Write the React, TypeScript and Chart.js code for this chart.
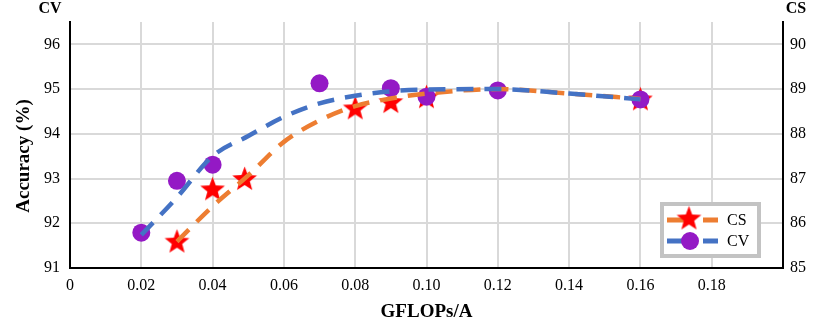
import React, { useEffect, useRef } from "react";
import { Chart, registerables } from "chart.js";

Chart.register(...registerables);

// ---- data ----
const cvX = [0.02, 0.03, 0.04, 0.07, 0.09, 0.1, 0.12, 0.16];
const cvY = [91.79, 92.95, 93.31, 95.13, 95.02, 94.83, 94.97, 94.77];

const csX = [0.03, 0.04, 0.049, 0.08, 0.09, 0.1, 0.16];
const csY = [85.6, 86.77, 87.0, 88.58, 88.72, 88.83, 88.78];

const cvFitX = [0.02, 0.03, 0.04, 0.05, 0.06, 0.07, 0.08, 0.09, 0.1, 0.12, 0.14, 0.16];
const cvFitY = [91.74, 92.58, 93.5, 93.95, 94.38, 94.68, 94.85, 94.95, 94.99, 95.0, 94.9, 94.77];

const csFitX = [0.03, 0.04, 0.05, 0.06, 0.07, 0.08, 0.09, 0.1, 0.12, 0.14, 0.16];
const csFitY = [85.59, 86.38, 87.07, 87.82, 88.3, 88.62, 88.79, 88.9, 89.0, 88.9, 88.78];

const xTicks = [0, 0.02, 0.04, 0.06, 0.08, 0.1, 0.12, 0.14, 0.16, 0.18, 0.2];
const yLeftTicks = [91, 92, 93, 94, 95, 96];
const yRightTicks = [85, 86, 87, 88, 89, 90];

const SERIF = "'Liberation Serif', 'Times New Roman', serif";
const ORANGE = "#ED7D31";
const BLUE = "#4472C4";
const PURPLE = "#9419C5";
const RED = "#FF0000";

function makeStar(size: number, color: string): HTMLCanvasElement {
  const c = document.createElement("canvas");
  c.width = size;
  c.height = size;
  const ctx = c.getContext("2d")!;
  const cx = size / 2;
  const cy = size / 2 + 1;
  const outer = size / 2 - 0.5;
  const inner = outer * 0.42;
  ctx.beginPath();
  for (let i = 0; i < 10; i++) {
    const r = i % 2 === 0 ? outer : inner;
    const a = -Math.PI / 2 + (i * Math.PI) / 5;
    const px = cx + r * Math.cos(a);
    const py = cy + r * Math.sin(a);
    if (i === 0) ctx.moveTo(px, py);
    else ctx.lineTo(px, py);
  }
  ctx.closePath();
  ctx.fillStyle = color;
  ctx.fill();
  return c;
}

export default function App() {
  const ref = useRef<HTMLCanvasElement | null>(null);

  useEffect(() => {
    document.body.style.margin = "0";
    const canvas = ref.current;
    if (!canvas) return;
    const star = makeStar(27, RED);

    const overlay = {
      id: "overlay",
      afterDraw(chart: any) {
        const ctx = chart.ctx as CanvasRenderingContext2D;
        ctx.save();
        // corner titles
        ctx.fillStyle = "#000";
        ctx.font = `bold 16px ${SERIF}`;
        ctx.textAlign = "center";
        ctx.textBaseline = "middle";
        ctx.fillText("CV", 50, 9);
        ctx.fillText("CS", 796, 9);

        // left axis title
        ctx.save();
        ctx.translate(24, 156);
        ctx.rotate(-Math.PI / 2);
        ctx.font = `bold 19px ${SERIF}`;
        ctx.fillText("Accuracy (%)", 0, 0);
        ctx.restore();

        // legend box
        ctx.fillStyle = "#fff";
        ctx.fillRect(662, 204, 97, 52);
        ctx.strokeStyle = "#c3c3c3";
        ctx.lineWidth = 4;
        ctx.strokeRect(662, 204, 97, 52);

        const ds = chart.data.datasets;
        const rows = [
          { y: 220, color: ORANGE, label: ds[0].label, kind: "star" },
          { y: 241, color: BLUE, label: ds[1].label, kind: "circle" },
        ];
        for (const r of rows) {
          ctx.save();
          ctx.strokeStyle = r.color;
          ctx.lineWidth = 5;
          ctx.setLineDash([25, 11]);
          ctx.beginPath();
          ctx.moveTo(667, r.y);
          ctx.lineTo(718, r.y);
          ctx.stroke();
          ctx.restore();
          if (r.kind === "star") {
            ctx.drawImage(star, 689 - star.width / 2, r.y - 2 - star.height / 2);
          } else {
            ctx.fillStyle = PURPLE;
            ctx.beginPath();
            ctx.arc(690, r.y, 9, 0, Math.PI * 2);
            ctx.fill();
          }
          ctx.fillStyle = "#000";
          ctx.font = `16px ${SERIF}`;
          ctx.textAlign = "left";
          ctx.textBaseline = "middle";
          ctx.fillText(r.label, 727, r.y + 1);
        }
        ctx.restore();
      },
    };

    const pts = (xs: number[], ys: number[]) => xs.map((x, i) => ({ x, y: ys[i] }));

    const chart = new Chart(canvas, {
      type: "scatter",
      data: {
        datasets: [
          {
            label: "CS",
            data: pts(csX, csY),
            yAxisID: "y2",
            pointStyle: star as any,
            pointRadius: 13,
            showLine: false,
            order: 4,
          },
          {
            label: "CV",
            data: pts(cvX, cvY),
            yAxisID: "y",
            pointStyle: "circle",
            pointRadius: 9,
            pointBackgroundColor: PURPLE,
            pointBorderWidth: 0,
            backgroundColor: PURPLE,
            borderColor: PURPLE,
            showLine: false,
            order: 3,
          },
          {
            label: "CS fit",
            data: pts(csFitX, csFitY),
            yAxisID: "y2",
            showLine: true,
            borderColor: ORANGE,
            borderWidth: 4.5,
            borderDash: [17, 11],
            borderCapStyle: "butt",
            pointRadius: 0,
            cubicInterpolationMode: "monotone",
            order: 2,
          },
          {
            label: "CV fit",
            data: pts(cvFitX, cvFitY),
            yAxisID: "y",
            showLine: true,
            borderColor: BLUE,
            borderWidth: 4.5,
            borderDash: [17, 11],
            borderCapStyle: "butt",
            pointRadius: 0,
            cubicInterpolationMode: "monotone",
            order: 1,
          },
        ],
      },
      options: {
        animation: false,
        responsive: false,
        maintainAspectRatio: false,
        layout: { padding: { top: 22, left: 0, right: 0, bottom: 0 } },
        plugins: {
          legend: { display: false },
          tooltip: { enabled: false },
        },
        scales: {
          x: {
            type: "linear",
            position: "bottom",
            min: 0,
            max: 0.2,
            afterBuildTicks: (s: any) => {
              s.ticks = xTicks.map((v) => ({ value: v }));
            },
            afterFit: (s: any) => {
              s.height = 61;
            },
            grid: { color: "#d9d9d9", lineWidth: 2, drawTicks: false },
            border: { color: "#000", width: 2 },
            ticks: {
              autoSkip: false,
              maxRotation: 0,
              padding: 8,
              color: "#000",
              font: { family: SERIF, size: 16 },
              callback: (v: any) => {
                const n = Number(v);
                if (n >= 0.199) return "";
                return n === 0 ? "0" : n.toFixed(2);
              },
            },
            title: {
              display: true,
              text: "GFLOPs/A",
              color: "#000",
              font: { family: SERIF, size: 19, weight: "bold" },
              padding: { top: 0, bottom: 6 },
            },
          },
          y: {
            type: "linear",
            position: "left",
            min: 91,
            max: 96.5,
            afterBuildTicks: (s: any) => {
              s.ticks = yLeftTicks.map((v) => ({ value: v }));
            },
            afterFit: (s: any) => {
              s.width = 70;
            },
            grid: { color: "#d9d9d9", lineWidth: 2, drawTicks: false },
            border: { color: "#000", width: 2 },
            ticks: {
              padding: 10,
              color: "#000",
              font: { family: SERIF, size: 16 },
            },
          },
          y2: {
            type: "linear",
            position: "right",
            min: 85,
            max: 90.5,
            afterBuildTicks: (s: any) => {
              s.ticks = yRightTicks.map((v) => ({ value: v }));
            },
            afterFit: (s: any) => {
              s.width = 49;
            },
            grid: { drawOnChartArea: false, drawTicks: false },
            border: { color: "#000", width: 2 },
            ticks: {
              padding: 7,
              color: "#000",
              font: { family: SERIF, size: 16 },
            },
          },
        },
      } as any,
      plugins: [overlay],
    });

    return () => chart.destroy();
  }, []);

  return (
    <div style={{ width: 832, height: 329, position: "relative" }}>
      <canvas ref={ref} width={832} height={329} style={{ display: "block" }} />
    </div>
  );
}
